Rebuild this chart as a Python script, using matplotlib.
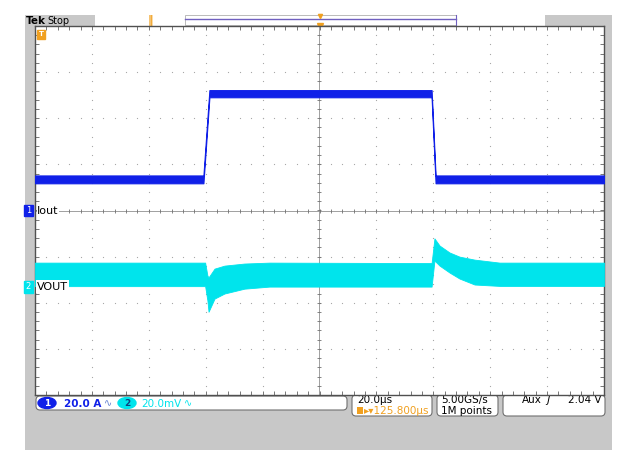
import matplotlib.pyplot as plt
import numpy as np
from matplotlib.patches import Rectangle, FancyBboxPatch, Ellipse

# scope settings
t_per_div = 20.0      # us / div
ch1_per_div = 20.0    # A / div
ch2_per_div = 20.0    # mV / div
ch1_pos = 0.0         # div
ch2_pos = -1.65       # div

# Iout envelope (A)
iout_t = [-100, -40.8, -38.7, 39.4, 40.8, 100]
iout_lo = [11.8, 11.8, 49.1, 49.1, 11.8, 11.8]
iout_hi = [15.2, 15.2, 52.2, 52.2, 15.2, 15.2]

# VOUT envelope (mV)
vout_t = [-100, -40.2, -39.4, -39.0, -36.9, -33.4, -26.4, -17.6,
          39.4, 40.4, 42.2, 45.7, 49.2, 54.5, 63.3, 100]
vout_lo = [0.2, 0.2, -6.0, -10.9, -5.2, -3.0, -0.9, 0.0,
           0.0, 11.3, 9.1, 6.1, 3.5, 0.9, 0.3, 0.3]
vout_hi = [10.4, 10.4, 4.8, 4.0, 7.8, 9.1, 10.0, 10.4,
           10.2, 20.9, 17.8, 14.8, 13.0, 11.7, 10.4, 10.4]

BLUE = '#1020e8'
CYAN = '#00e4ec'
ORANGE = '#f0a020'
GREY = '#c8c8c8'

fig = plt.figure(figsize=(6.27, 4.65), dpi=100)

# background / frame in pixel coordinates
bg = fig.add_axes([0, 0, 1, 1], zorder=0)
bg.set_xlim(0, 627)
bg.set_ylim(465, 0)
bg.axis('off')
bg.add_patch(Rectangle((25, 15), 587, 435, color=GREY, lw=0))
bg.add_patch(Rectangle((95, 15), 450, 11, color='white', lw=0))
bg.add_patch(Rectangle((185, 15), 271, 10, fc='white', ec='#b0b0b0', lw=0.6))
bg.plot([185, 456], [19.5, 19.5], color='#7060c0', lw=1)
bg.plot([456, 456], [15, 25], color='#7060c0', lw=0.8)
bg.text(26, 20.5, 'Tek', fontsize=7.5, fontweight='bold', va='center')
bg.text(47, 20.5, 'Stop', fontsize=7, va='center')
bg.text(150, 21, '‖', fontsize=8, color=ORANGE, va='center', ha='center', fontweight='bold')
bg.plot([320], [16.5], marker='v', ms=3, color=ORANGE)
bg.plot([320], [26.5], marker='v', ms=4, color=ORANGE)

# status boxes
def sbox(x0, y0, w, h):
    bg.add_patch(FancyBboxPatch((x0, y0), w, h, boxstyle='round,pad=0,rounding_size=4',
                                fc='white', ec='#707070', lw=0.8))

sbox(36, 396, 311, 14)
sbox(352, 395, 80, 21)
sbox(437, 395, 61, 21)
sbox(503, 395, 102, 21)

bg.add_patch(Ellipse((47, 403), 18, 11, color=BLUE))
bg.text(47, 403.5, '1', fontsize=6.5, color='white', ha='center', va='center', fontweight='bold')
bg.text(64, 403.5, '20.0 A', fontsize=7.5, color=BLUE, va='center', fontweight='bold')
bg.text(104, 403.5, '∿', fontsize=7, color='#6080d0', va='center')
bg.add_patch(Ellipse((127, 403), 18, 11, color=CYAN))
bg.text(127, 403.5, '2', fontsize=6.5, color='#104080', ha='center', va='center', fontweight='bold')
bg.text(141, 403.5, '20.0mV', fontsize=7.5, color=CYAN, va='center')
bg.text(184, 403.5, '∿', fontsize=7, color=CYAN, va='center')

bg.text(357, 400, '20.0µs', fontsize=7.5, va='center')
bg.add_patch(Rectangle((357, 406.5), 6, 7, color=ORANGE, lw=0))
bg.text(364, 410.5, '▸▾125.800µs', fontsize=7.5, color=ORANGE, va='center')
bg.text(441, 400, '5.00GS/s', fontsize=7.5, va='center')
bg.text(441, 410.5, '1M points', fontsize=7.5, va='center')
bg.text(522, 400, 'Aux', fontsize=7.5, va='center')
bg.text(546, 400, 'ʃ', fontsize=8, va='center', fontstyle='italic')
bg.text(602, 400, '2.04 V', fontsize=7.5, va='center', ha='right')

# graticule axes (divisions)
ax = fig.add_axes([35 / 627, 70 / 465, 569 / 627, 369 / 465], zorder=1)
ax.set_xlim(-5, 5)
ax.set_ylim(-4, 4)
ax.set_facecolor('white')
for s in ax.spines.values():
    s.set_color('#505050')
    s.set_linewidth(1)
ax.set_xticks([])
ax.set_yticks([])
ax.set_xticks(np.arange(-5, 5.01, 0.2), minor=True)
ax.set_yticks(np.arange(-4, 4.01, 0.2), minor=True)
ax.tick_params(which='minor', direction='in', length=3, width=0.6, color='#606060',
               top=True, right=True, labelbottom=False, labelleft=False)

sub_x = np.arange(-5, 5.01, 0.2)
sub_y = np.arange(-4, 4.01, 0.2)
for gx in range(-4, 5):
    if gx == 0:
        continue
    ax.plot(np.full_like(sub_y, gx), sub_y, ls='none', marker='s', ms=0.8, color='#a8a8a8', mew=0)
for gy in range(-3, 4):
    if gy == 0:
        continue
    ax.plot(sub_x, np.full_like(sub_x, gy), ls='none', marker='s', ms=0.8, color='#a8a8a8', mew=0)
ax.axhline(0, color='#909090', lw=0.6)
ax.axvline(0, color='#909090', lw=0.6)
ax.plot(sub_x, np.zeros_like(sub_x), ls='none', marker='|', ms=3, color='#707070', mew=0.6)
ax.plot(np.zeros_like(sub_y), sub_y, ls='none', marker='_', ms=3, color='#707070', mew=0.6)

# traces
t_div = np.array(iout_t) / t_per_div
ax.fill_between(t_div, np.array(iout_lo) / ch1_per_div + ch1_pos,
                np.array(iout_hi) / ch1_per_div + ch1_pos, color=BLUE, lw=0.8, ec=BLUE, zorder=4)
tv = np.array(vout_t) / t_per_div
ax.fill_between(tv, np.array(vout_lo) / ch2_per_div + ch2_pos,
                np.array(vout_hi) / ch2_per_div + ch2_pos, color=CYAN, lw=0.6, ec=CYAN, zorder=3)

# channel markers
ytr = ax.get_yaxis_transform()
ax.add_patch(Rectangle((-0.019, ch1_pos - 0.13), 0.015, 0.26, transform=ytr, color=BLUE, clip_on=False, zorder=5))
ax.text(-0.0115, ch1_pos, '1', transform=ytr, fontsize=6, color='white', ha='center', va='center', zorder=6)
ax.text(0.004, ch1_pos, 'Iout', transform=ytr, fontsize=8, va='center', zorder=6,
        bbox=dict(fc='white', ec='none', pad=0.5))
ax.add_patch(Rectangle((-0.019, ch2_pos - 0.13), 0.015, 0.26, transform=ytr, color=CYAN, clip_on=False, zorder=5))
ax.text(-0.0115, ch2_pos, '2', transform=ytr, fontsize=6, color='white', ha='center', va='center', zorder=6)
ax.text(0.004, ch2_pos, 'VOUT', transform=ytr, fontsize=8, va='center', zorder=6,
        bbox=dict(fc='white', ec='none', pad=0.8))

# trigger position marker (top left)
ax.add_patch(Rectangle((0.004, 0.965), 0.014, 0.024, transform=ax.transAxes, color=ORANGE, zorder=6))
ax.text(0.011, 0.977, 'T', transform=ax.transAxes, fontsize=5, color='white', ha='center', va='center',
        fontweight='bold', zorder=7)

fig.savefig('out.png', dpi=100)
